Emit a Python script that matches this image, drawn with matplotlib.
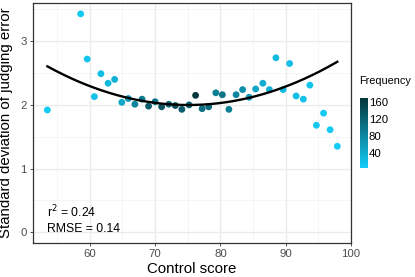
import numpy as np
import matplotlib
matplotlib.use("Agg")
import matplotlib.pyplot as plt
from matplotlib.colors import LinearSegmentedColormap, Normalize

plt.rcParams["font.family"] = ["Liberation Sans", "DejaVu Sans"]

# ── data ─────────────────────────────────────────────────────────────────────
control_score = [53.5, 58.6, 59.6, 60.7, 61.7, 62.8, 63.8, 64.9, 65.9, 66.9,
                 68.0, 69.0, 70.0, 71.0, 72.1, 73.1, 74.1, 75.2, 76.2, 77.2,
                 78.2, 79.3, 80.3, 81.3, 82.4, 83.4, 84.4, 85.4, 86.5, 87.5,
                 88.5, 89.6, 90.6, 91.6, 92.7, 93.7, 94.7, 95.8, 96.8, 97.9]
sd_error = [1.92, 3.43, 2.72, 2.13, 2.49, 2.34, 2.40, 2.04, 2.10, 2.01,
            2.09, 1.98, 2.05, 1.97, 2.01, 1.99, 1.93, 2.00, 2.15, 1.94,
            1.97, 2.19, 2.16, 1.93, 2.16, 2.24, 2.12, 2.25, 2.34, 2.24,
            2.74, 2.24, 2.65, 2.14, 2.09, 2.31, 1.68, 1.87, 1.61, 1.35]
frequency = [8, 10, 14, 18, 22, 28, 35, 45, 60, 80,
             95, 125, 100, 135, 115, 140, 125, 120, 165, 105,
             110, 90, 100, 90, 80, 70, 60, 48, 40, 35,
             25, 25, 20, 20, 16, 15, 10, 10, 8, 6]

# fitted curve
curve_x = [53.5, 56.4, 61.5, 66.6, 71.7, 76.9, 82.0, 87.1, 92.2, 97.9]
curve_y = [2.61, 2.46, 2.22, 2.09, 2.02, 2.01, 2.05, 2.19, 2.39, 2.67]

x_ticks = [60, 70, 80, 90, 100]
y_ticks = [0, 1, 2, 3]
freq_ticks = [40, 80, 120, 160]

# ── figure ───────────────────────────────────────────────────────────────────
fig = plt.figure(figsize=(4.15, 2.77), dpi=100)
ax = fig.add_axes([0.0795, 0.1227, 0.7663, 0.8663])

cmap = LinearSegmentedColormap.from_list("freq", ["#14CCF7", "#05363A"])
norm = Normalize(vmin=5, vmax=168)

# grid like theme_bw
for v in np.arange(55, 101, 10):
    ax.axvline(v, color="#F2F2F2", lw=0.5, zorder=0)
for v in np.arange(0.5, 3.6, 1.0):
    ax.axhline(v, color="#F2F2F2", lw=0.5, zorder=0)
for v in x_ticks:
    ax.axvline(v, color="#EBEBEB", lw=1.0, zorder=0)
for v in y_ticks:
    ax.axhline(v, color="#EBEBEB", lw=1.0, zorder=0)

sc = ax.scatter(control_score, sd_error, c=frequency, cmap=cmap, norm=norm,
                s=24, linewidths=0, zorder=2)

coef = np.polyfit(curve_x, curve_y, 2)
xs = np.linspace(curve_x[0], curve_x[-1], 200)
ax.plot(xs, np.polyval(coef, xs), color="black", lw=1.7, zorder=3)

ax.set_xlim(51.3, 100)
ax.set_ylim(-0.17, 3.6)
ax.set_xticks(x_ticks)
ax.set_yticks(y_ticks)
ax.tick_params(colors="#333333", labelcolor="#4D4D4D", labelsize=8.2,
               length=2.5, width=0.6, pad=2)
for s in ax.spines.values():
    s.set_color("#333333")
    s.set_linewidth(0.9)

ax.set_xlabel("Control score", fontsize=10.8, labelpad=2)
ax.set_ylabel("Standard deviation of judging error", fontsize=10.8, labelpad=5)

ax.text(53.5, 0.23, r"r$^2$ = 0.24", fontsize=8.8, va="baseline")
ax.text(53.5, 0.01, "RMSE = 0.14", fontsize=8.8, va="baseline")

# colour bar
cax = fig.add_axes([0.867, 0.3946, 0.0186, 0.2505])
cb = fig.colorbar(sc, cax=cax, ticks=freq_ticks)
cb.outline.set_visible(False)
cb.ax.tick_params(length=0, labelsize=8.2, labelcolor="black", pad=1)
fig.text(0.866, 0.69, "Frequency", fontsize=7.8, va="bottom")

fig.savefig("out.png", dpi=100)
